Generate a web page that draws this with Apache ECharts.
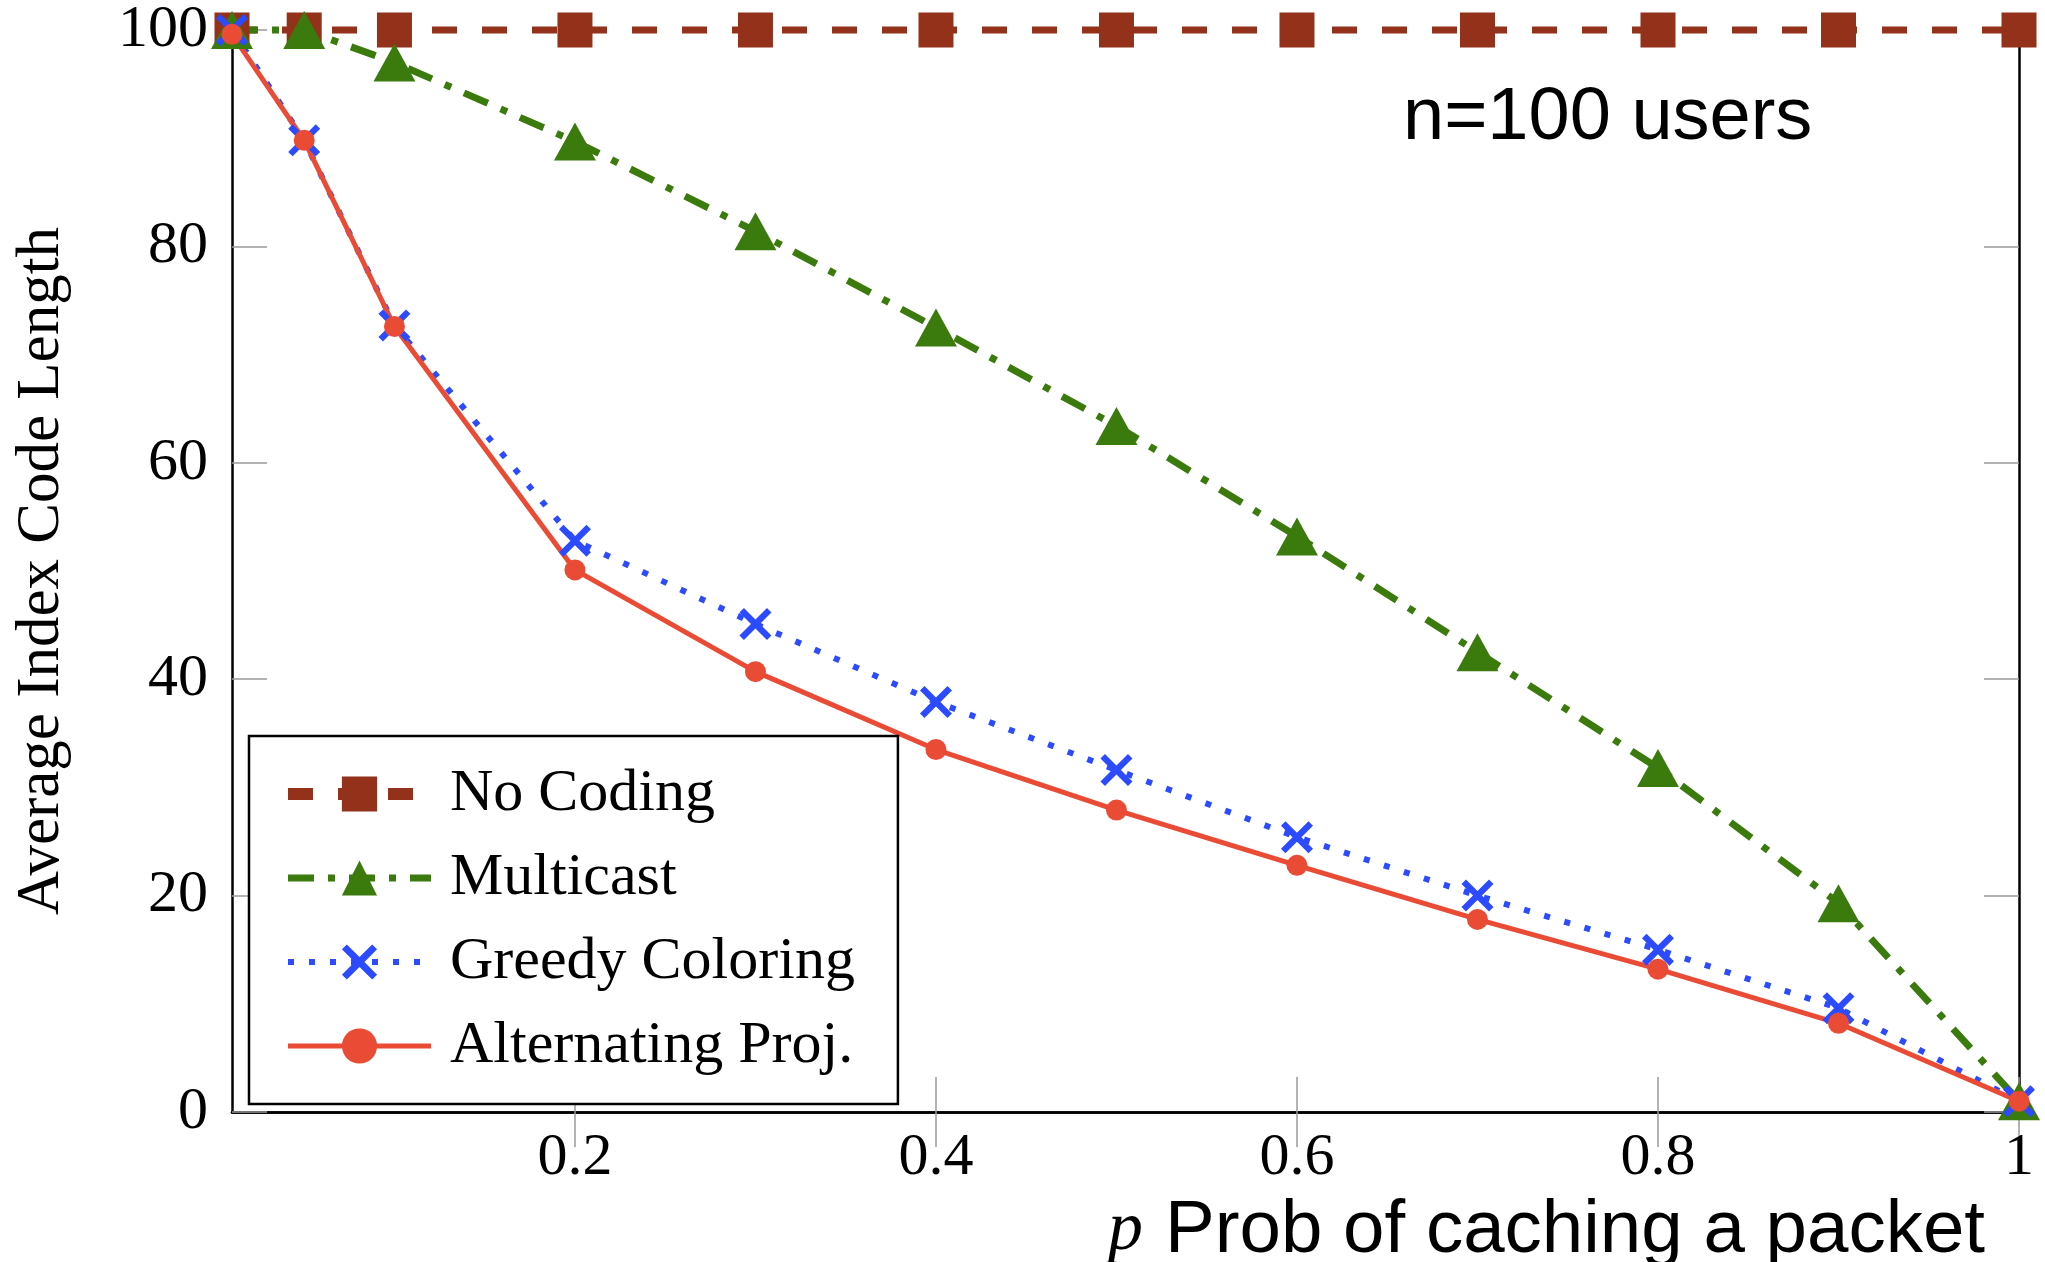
<!DOCTYPE html>
<html>
<head>
<meta charset="utf-8">
<script src="https://cdn.jsdelivr.net/npm/echarts@6/dist/echarts.min.js"></script>
<style>
html, body { margin: 0; padding: 0; background: #fff; }
#main { width: 2045px; height: 1262px; }
</style>
</head>
<body>
<div id="main"></div>
<script>
// probability of caching a packet
const pValues = [0.01, 0.05, 0.1, 0.2, 0.3, 0.4, 0.5, 0.6, 0.7, 0.8, 0.9, 1];
const noCoding = [100, 100, 100, 100, 100, 100, 100, 100, 100, 100, 100, 100];
const multicast = [100, 100, 97, 89.7, 81.4, 72.5, 63.4, 53.2, 42.5, 31.8, 19.3, 1];
const greedy = [100, 89.8, 72.7, 52.8, 45.1, 37.9, 31.6, 25.4, 20.0, 15.0, 9.6, 1];
const altProj = [99.6, 89.8, 72.6, 50.1, 40.7, 33.5, 27.9, 22.8, 17.8, 13.2, 8.2, 1];

const xTicks = [0.2, 0.4, 0.6, 0.8, 1];
const seriesNames = ["No Coding", "Multicast", "Greedy Coloring", "Alternating Proj."];
const colors = ["#93311b", "#3b7a0c", "#2c4bff", "#e94b35"];

const serif = "Liberation Serif";
const sans = "Liberation Sans";
const crossPath =
	"path://M0,1.4 L1.4,0 L5,3.6 L8.6,0 L10,1.4 L6.4,5 L10,8.6 L8.6,10 L5,6.4 L1.4,10 L0,8.6 L3.6,5 Z";

// the top line sits on the frame, so in the plot it reads thinner than in the legend
const lineStyles = [
	{ color: colors[0], width: 7, type: [25, 25] },
	{ color: colors[1], width: 7, type: [26, 14, 7, 14] },
	{ color: colors[2], width: 6, type: [6, 15] },
	{ color: colors[3], width: 5 },
];
const legendLines = [{ color: colors[0], width: 12, type: [25, 25] }, lineStyles[1], lineStyles[2], lineStyles[3]];

const pair = (ys) => pValues.map((p, i) => [p, ys[i]]);

const tickStyle = { color: "#9a9a9a", width: 1.5 };
const frameLine = { show: true, lineStyle: { color: "#000", width: 2.5 } };

const chart = echarts.init(document.getElementById("main"));

const option = {
	backgroundColor: "#fff",
	animation: false,
	grid: { left: 232, right: 26, top: 26, bottom: 150 },
	xAxis: [
		{
			type: "value",
			min: 0.01,
			max: 1,
			position: "bottom",
			axisLine: frameLine,
			axisTick: { inside: true, length: 35, customValues: xTicks, lineStyle: tickStyle },
			axisLabel: {
				customValues: xTicks,
				margin: 16,
				fontFamily: serif,
				fontSize: 60,
				color: "#000",
			},
			splitLine: { show: false },
		},
		{
			type: "value",
			min: 0.01,
			max: 1,
			position: "top",
			axisLine: frameLine,
			axisTick: { inside: true, length: 35, customValues: xTicks, lineStyle: tickStyle },
			axisLabel: { show: false },
			splitLine: { show: false },
		},
	],
	yAxis: [
		{
			type: "value",
			min: 0,
			max: 100,
			interval: 20,
			position: "left",
			axisLine: frameLine,
			axisTick: { inside: true, length: 35, lineStyle: tickStyle },
			axisLabel: { margin: 24, fontFamily: serif, fontSize: 60, color: "#000" },
			splitLine: { show: false },
			name: "Average Index Code Length",
			nameLocation: "middle",
			nameGap: 160,
			nameTextStyle: { fontFamily: serif, fontSize: 61, color: "#000" },
		},
		{
			type: "value",
			min: 0,
			max: 100,
			interval: 20,
			position: "right",
			axisLine: frameLine,
			axisTick: { inside: true, length: 35, lineStyle: tickStyle },
			axisLabel: { show: false },
			splitLine: { show: false },
		},
	],
	legend: {
		orient: "vertical",
		left: 249,
		top: 736,
		padding: [28, 43, 28, 33],
		itemGap: 24,
		itemWidth: 143,
		itemHeight: 44,
		borderColor: "#000",
		borderWidth: 2.5,
		backgroundColor: "#fff",
		textStyle: { fontFamily: serif, fontSize: 60, color: "#000", padding: [0, 0, 0, 14] },
		data: seriesNames.map((name, i) => ({ name: name, lineStyle: legendLines[i] })),
	},
	graphic: [
		{
			type: "text",
			style: {
				x: 1403,
				y: 119,
				verticalAlign: "middle",
				text: "n=100 users",
				fontFamily: sans,
				fontSize: 74,
				fill: "#000",
			},
		},
		{
			type: "text",
			style: {
				x: 1108,
				y: 1231,
				verticalAlign: "middle",
				text: "p",
				fontFamily: serif,
				fontStyle: "italic",
				fontSize: 70,
				fill: "#000",
			},
		},
		{
			type: "text",
			style: {
				x: 1165,
				y: 1231,
				verticalAlign: "middle",
				text: "Prob of caching a packet",
				fontFamily: sans,
				fontSize: 74.5,
				fill: "#000",
			},
		},
	],
	series: [
		{
			name: seriesNames[0],
			type: "line",
			data: pair(noCoding),
			clip: false,
			symbol: "rect",
			symbolSize: 35,
			itemStyle: { color: colors[0] },
			lineStyle: lineStyles[0],
		},
		{
			name: seriesNames[1],
			type: "line",
			data: pair(multicast),
			clip: false,
			symbol: "triangle",
			symbolSize: [42, 38],
			itemStyle: { color: colors[1] },
			lineStyle: lineStyles[1],
		},
		{
			name: seriesNames[2],
			type: "line",
			data: pair(greedy),
			clip: false,
			symbol: crossPath,
			symbolSize: 32,
			itemStyle: { color: colors[2] },
			lineStyle: lineStyles[2],
		},
		{
			name: seriesNames[3],
			type: "line",
			data: pair(altProj),
			clip: false,
			symbol: "circle",
			symbolSize: 21,
			itemStyle: { color: colors[3] },
			lineStyle: lineStyles[3],
		},
	],
};

chart.setOption(option);
</script>
</body>
</html>
